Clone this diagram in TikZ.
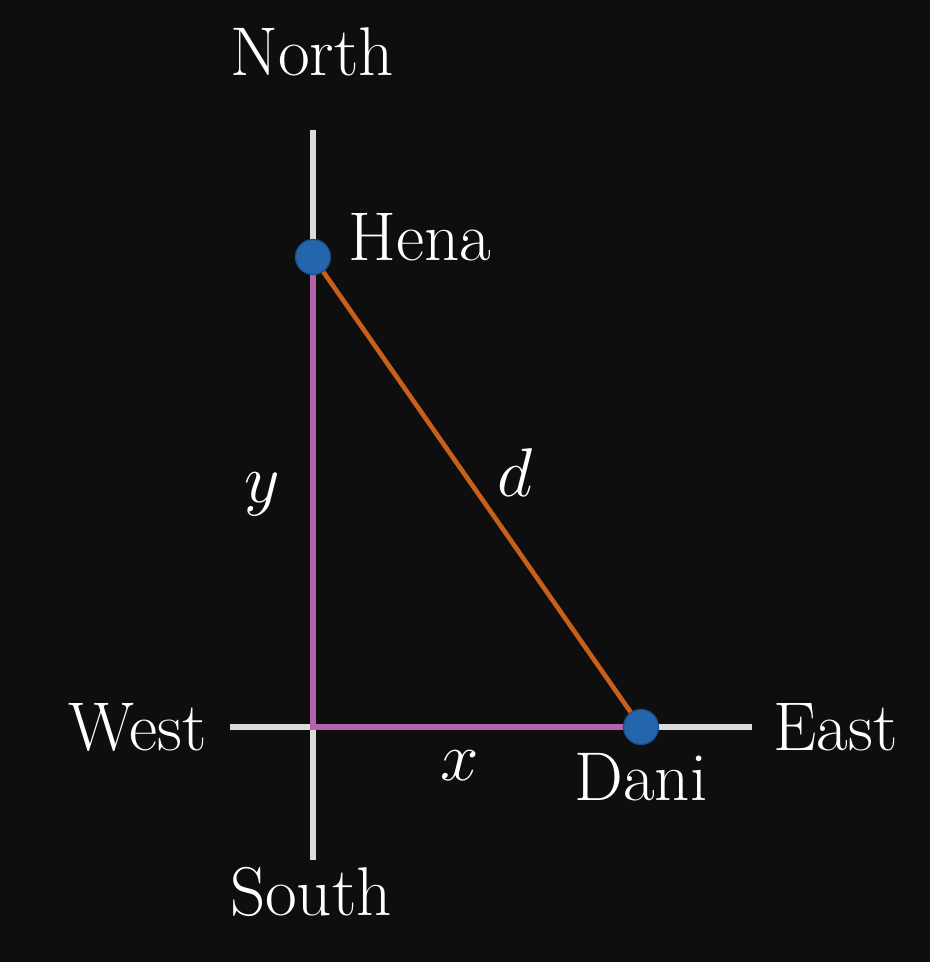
\documentclass[tikz,border=0pt]{standalone}
\usepackage{fix-cm}
\usepackage{tikz}
\definecolor{bg}{HTML}{0E0E0E}
\definecolor{axisgray}{HTML}{DCDCDC}
\definecolor{legpurple}{HTML}{B263AA}
\definecolor{hypor}{HTML}{C8601C}
\definecolor{dotblue}{HTML}{2366AE}
\definecolor{dotdark}{HTML}{1A4E88}
\begin{document}
\begin{tikzpicture}[x=0.5pt,y=-0.5pt,
  lbl/.style={text=white,inner sep=0pt,font=\fontsize{34.5}{40}\selectfont},
  axisline/.style={draw=axisgray,line width=3pt},
  leg/.style={draw=legpurple,line width=3pt},
  hyp/.style={draw=hypor,line width=2.3pt},
  dot/.style={circle,minimum size=17.5pt,inner sep=0pt,fill=dotblue,draw=dotdark,line width=0.6pt}]
\useasboundingbox[fill=bg] (0,0) rectangle (930,962);
% axes
\coordinate (ntop) at (313,130);
\coordinate (sbot) at (313,860);
\coordinate (wend) at (230,727);
\coordinate (eend) at (752,727);
\coordinate (o) at (313,727);
\draw[axisline] (ntop) -- (sbot);
\draw[axisline] (wend) -- (eend);
% points
\coordinate (h) at (313,257);
\coordinate (dn) at (641,727);
\draw[leg,line cap=rect] (h) -- (o) -- (dn);
\draw[hyp] (h) -- (dn);
\node[dot] (hena) at (h) {};
\node[dot] (dani) at (dn) {};
% labels
\node[lbl] (north) at (312,52) {North};
\node[lbl] (south) at (311,892) {South};
\node[lbl,anchor=east] (west) at (207,727) {West};
\node[lbl,anchor=west] (east) at (773,727) {East};
\node[lbl,anchor=west] (henalbl) at (348,237) {Hena};
\node[lbl] (danilbl) at (641,777) {Dani};
\node[lbl] (dlbl) at (515,473) {$d$};
\node[lbl] (ylbl) at (262,494) {$y$};
\node[lbl] (xlbl) at (460,766) {$x$};
\end{tikzpicture}
\end{document}
